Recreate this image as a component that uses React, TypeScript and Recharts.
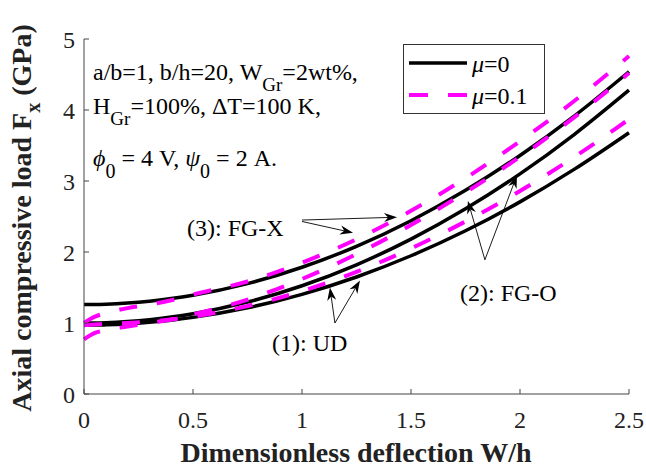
import React from "react";
import { LineChart, Line, XAxis, YAxis, ReferenceLine } from "recharts";

// Dimensionless deflection W/h
const W = [0, 0.05, 0.1, 0.2, 0.3, 0.4, 0.5, 0.75, 1, 1.25, 1.5, 1.75, 2, 2.25, 2.5];

// mu = 0 (solid black)
const FGX_MU0 = [1.26, 1.261, 1.265, 1.281, 1.307, 1.344, 1.391, 1.555, 1.785, 2.08, 2.441, 2.868, 3.36, 3.918, 4.54];
const FGO_MU0 = [1.0, 1.001, 1.005, 1.021, 1.047, 1.084, 1.131, 1.295, 1.525, 1.82, 2.181, 2.608, 3.1, 3.658, 4.28];
const UD_MU0 = [0.97, 0.971, 0.974, 0.987, 1.009, 1.039, 1.079, 1.214, 1.404, 1.648, 1.947, 2.299, 2.706, 3.167, 3.68];

// mu = 0.1 (dashed magenta)
const FGX_MU1 = [1.0, 1.09, 1.14, 1.21, 1.26, 1.32, 1.4, 1.585, 1.85, 2.18, 2.58, 3.04, 3.56, 4.13, 4.76];
const FGO_MU1 = [0.77, 0.86, 0.9, 0.95, 1.0, 1.05, 1.12, 1.33, 1.62, 1.97, 2.38, 2.84, 3.34, 3.9, 4.52];
const UD_MU1 = [0.97, 0.98, 0.99, 1.0, 1.02, 1.05, 1.09, 1.24, 1.45, 1.72, 2.05, 2.43, 2.86, 3.34, 3.87];

const X_TICKS = [0, 0.5, 1, 1.5, 2, 2.5];
const Y_TICKS = [0, 1, 2, 3, 4, 5];

// annotation arrows, from label to curve, in data units
const ARROWS = [
  { from: { x: 1.0, y: 2.45 }, to: { x: 1.436, y: 2.49 } },
  { from: { x: 1.0, y: 2.43 }, to: { x: 1.234, y: 2.27 } },
  { from: { x: 1.151, y: 1.0 }, to: { x: 1.128, y: 1.5 } },
  { from: { x: 1.151, y: 1.0 }, to: { x: 1.266, y: 1.6 } },
  { from: { x: 1.839, y: 1.89 }, to: { x: 1.761, y: 2.72 } },
  { from: { x: 1.839, y: 1.89 }, to: { x: 1.986, y: 3.08 } },
];

const FONT = "Liberation Serif";
const MAGENTA = "#ff00ff";
const AXIS = "#444";

const data = W.map((w, i) => ({
  w,
  fgx0: FGX_MU0[i],
  fgo0: FGO_MU0[i],
  ud0: UD_MU0[i],
  fgx1: FGX_MU1[i],
  fgo1: FGO_MU1[i],
  ud1: UD_MU1[i],
}));

/* eslint-disable @typescript-eslint/no-explicit-any */
const ArrowShape = (props: any) => {
  const { x1, y1, x2, y2 } = props;
  const ang = Math.atan2(y2 - y1, x2 - x1);
  const len = 13;
  const half = 4.5;
  const notch = 9;
  const bx = x2 - len * Math.cos(ang);
  const by = y2 - len * Math.sin(ang);
  const nx = x2 - notch * Math.cos(ang);
  const ny = y2 - notch * Math.sin(ang);
  const px = -Math.sin(ang) * half;
  const py = Math.cos(ang) * half;
  return (
    <g>
      <line x1={x1} y1={y1} x2={nx} y2={ny} stroke="#000" strokeWidth={0.9} />
      <polygon
        points={`${x2},${y2} ${bx + px},${by + py} ${nx},${ny} ${bx - px},${by - py}`}
        fill="#000"
      />
    </g>
  );
};

const tickStyle = { fill: "#222", fontSize: 24, fontFamily: FONT };
const txt = { fontFamily: FONT, fontSize: 24, fill: "#000" };

export default function App() {
  return (
    <div style={{ position: "fixed", left: 0, top: 0, width: 646, height: 471, background: "#fff", overflow: "hidden" }}>
      <LineChart
        width={646}
        height={471}
        data={data}
        margin={{ top: 39, right: 17, bottom: 37, left: 24 }}
      >
        <XAxis
          dataKey="w"
          type="number"
          domain={[0, 2.5]}
          ticks={X_TICKS}
          height={40}
          tickSize={-5}
          tickMargin={22}
          stroke={AXIS}
          tick={tickStyle}
        />
        <XAxis
          xAxisId="top"
          orientation="top"
          dataKey="w"
          type="number"
          domain={[0, 2.5]}
          ticks={X_TICKS}
          height={0}
          tickSize={-5}
          tick={false}
          stroke={AXIS}
        />
        <YAxis
          type="number"
          domain={[0, 5]}
          ticks={Y_TICKS}
          width={60}
          tickSize={-5}
          tickMargin={14}
          stroke={AXIS}
          tick={tickStyle}
        />
        <YAxis
          yAxisId="right"
          orientation="right"
          type="number"
          domain={[0, 5]}
          ticks={Y_TICKS}
          width={0}
          tickSize={-5}
          tick={false}
          stroke={AXIS}
        />

        <Line type="monotone" dataKey="fgx0" stroke="#000" strokeWidth={3.5} dot={false} isAnimationActive={false} />
        <Line type="monotone" dataKey="fgo0" stroke="#000" strokeWidth={3.5} dot={false} isAnimationActive={false} />
        <Line type="monotone" dataKey="ud0" stroke="#000" strokeWidth={3.5} dot={false} isAnimationActive={false} />
        <Line type="monotone" dataKey="fgx1" stroke={MAGENTA} strokeWidth={4} strokeDasharray="18 20" dot={false} isAnimationActive={false} />
        <Line type="monotone" dataKey="fgo1" stroke={MAGENTA} strokeWidth={4} strokeDasharray="18 20" dot={false} isAnimationActive={false} />
        <Line type="monotone" dataKey="ud1" stroke={MAGENTA} strokeWidth={4} strokeDasharray="18 20" dot={false} isAnimationActive={false} />

        {ARROWS.map((a, i) => (
          <ReferenceLine key={i} segment={[a.from, a.to]} shape={ArrowShape} ifOverflow="visible" />
        ))}
      </LineChart>

      <svg
        width={646}
        height={471}
        style={{ position: "absolute", left: 0, top: 0, pointerEvents: "none" }}
      >
        {/* parameter block */}
        <text x={93} y={80} {...txt}>
          a/b=1, b/h=20, W
          <tspan fontSize={19} dy={11}>Gr</tspan>
          <tspan dy={-11}>=2wt%,</tspan>
        </text>
        <text x={93} y={114} {...txt}>
          H
          <tspan fontSize={19} dy={11}>Gr</tspan>
          <tspan dy={-11}>=100%, ΔT=100 K,</tspan>
        </text>
        <text x={93} y={166} {...txt}>
          <tspan fontStyle="italic">ϕ</tspan>
          <tspan fontSize={20} dy={12}>0</tspan>
          <tspan dy={-12}> = 4 V,  </tspan>
          <tspan fontStyle="italic">ψ</tspan>
          <tspan fontSize={20} dy={12}>0</tspan>
          <tspan dy={-12}> = 2 A.</tspan>
        </text>

        {/* curve labels */}
        <text x={187} y={236} {...txt}>(3): FG-X</text>
        <text x={272} y={351} {...txt}>(1): UD</text>
        <text x={460} y={301} {...txt}>(2): FG-O</text>

        {/* legend */}
        <rect x={403.5} y={44.5} width={141} height={69} fill="#fff" stroke="#333" strokeWidth={1} />
        <line x1={409} y1={63} x2={467} y2={63} stroke="#000" strokeWidth={3.5} />
        <text x={472} y={72} {...txt}>
          <tspan fontStyle="italic">μ</tspan>=0
        </text>
        <line x1={409} y1={95} x2={467} y2={95} stroke={MAGENTA} strokeWidth={4} strokeDasharray="19 20" />
        <text x={472} y={104} {...txt}>
          <tspan fontStyle="italic">μ</tspan>=0.1
        </text>

        {/* axis titles */}
        <text x={356} y={462} fontFamily={FONT} fontSize={28} fontWeight="bold" textAnchor="middle" fill="#222">
          Dimensionless deflection W/h
        </text>
        <text
          transform="translate(31,218) rotate(-90)"
          fontFamily={FONT}
          fontSize={28}
          fontWeight="bold"
          textAnchor="middle"
          fill="#222"
        >
          Axial compressive load F
          <tspan fontSize={20} dy={9}>x</tspan>
          <tspan dy={-9}>  (GPa)</tspan>
        </text>
      </svg>
    </div>
  );
}
